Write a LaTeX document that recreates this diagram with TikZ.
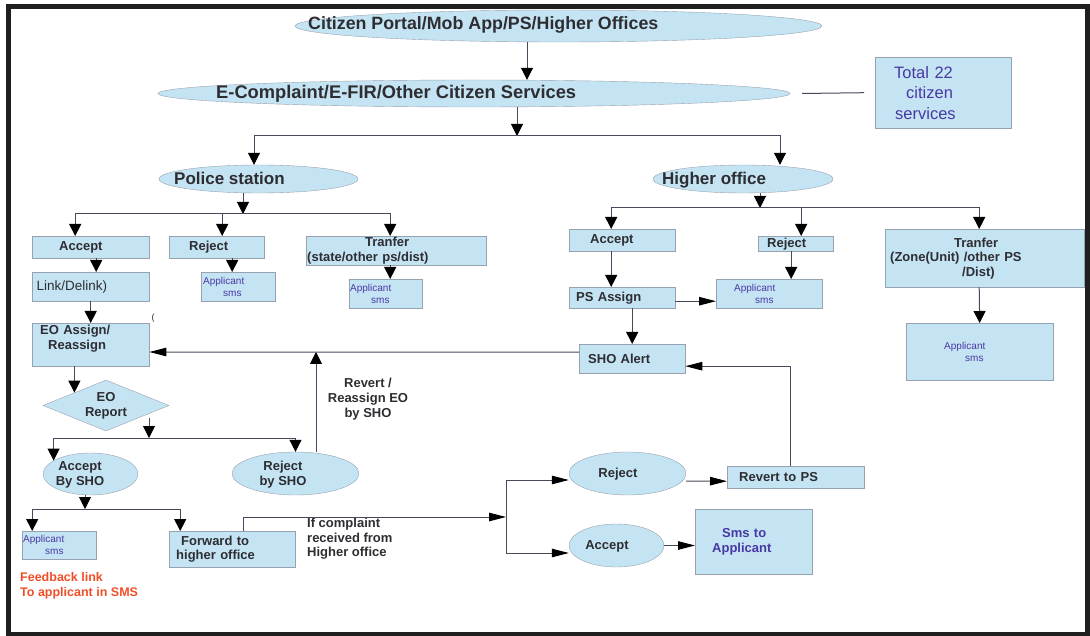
\documentclass[tikz,border=0pt]{standalone}
\usepackage{fontspec}
\setmainfont{Liberation Sans}
\usetikzlibrary{arrows.meta,shapes.geometric}
\definecolor{cellblue}{RGB}{197,228,243}
\definecolor{cellline}{RGB}{150,162,175}
\definecolor{wirecol}{RGB}{72,72,92}
\definecolor{inkgray}{RGB}{45,45,50}
\definecolor{inkblue}{RGB}{72,56,165}
\definecolor{inkred}{RGB}{240,78,40}

\begin{document}
\begin{tikzpicture}[x=1pt,y=-1pt,
   box/.style={draw=cellline,fill=cellblue,rectangle,anchor=north west,inner ysep=0pt,align=left,text=inkgray,font=\bfseries\fontsize{13}{14.5}\selectfont},
   smsbox/.style={box,text=inkblue,font=\fontsize{10}{12}\selectfont},
   oval/.style={draw=cellline,fill=cellblue,ellipse,inner sep=0pt},
   ovaltext/.style={text=inkgray,inner sep=0pt,anchor=base west,font=\bfseries\fontsize{17}{20}\selectfont},
   boldtext/.style={text=inkgray,align=center,inner sep=0pt,font=\bfseries\fontsize{13}{15}\selectfont},
   wire/.style={draw=wirecol,line width=1pt},
   arr/.style={wire,-{Triangle[length=12pt,width=12pt,color=black]}},
   harr/.style={wire,-{Triangle[length=17pt,width=8.5pt,color=black]}}]
\useasboundingbox (0,0) rectangle (1090,636);
\draw[line width=5pt,black!88] (8.5,6.5) rectangle (1087.5,634);

\node[oval,minimum width=527pt,minimum height=32pt] (portal) at (558.5,26) {};
\node[ovaltext,font=\bfseries\fontsize{17.8}{20}\selectfont] (portaltxt) at (308,30) {Citizen Portal/Mob App/PS/Higher Offices};
\node[oval,minimum width=632pt,minimum height=27pt] (services) at (474,93.5) {};
\node[ovaltext,font=\bfseries\fontsize{18.3}{20}\selectfont] (servicestxt) at (216,99) {E-Complaint/E-FIR/Other Citizen Services};
\node[box,text=inkblue,font=\fontsize{16.5}{20.5}\selectfont,inner xsep=19pt,text width=98pt,minimum height=71pt] (total) at (875,57) {Total 22\\\hspace*{12pt}citizen\\\hspace*{1pt}services};
\node[oval,minimum width=199pt,minimum height=28pt] (station) at (258.5,179) {};
\node[ovaltext] (stationtxt) at (174,185) {Police station};
\node[oval,minimum width=180pt,minimum height=28pt] (office) at (743,179) {};
\node[ovaltext] (officetxt) at (662,185) {Higher office};

\node[box,inner xsep=27pt,text width=63pt,minimum height=22pt] (psacc) at (32,236) {Accept};
\node[box,inner xsep=20pt,text width=55pt,minimum height=22pt] (psrej) at (169,236) {Reject};
\node[box,inner xsep=1pt,text width=178pt,minimum height=29pt] (pstrf) at (306,236) {\hspace*{58pt}Tranfer\\(state/other ps/dist)};
\node[box,font=\fontsize{13.5}{16}\selectfont,inner xsep=4.5pt,text width=108pt,minimum height=29pt] (link) at (32,272) {Link/Delink)};
\node[smsbox,inner xsep=2pt,text width=70pt,minimum height=29pt] (rejsms) at (201,272) {Applicant\\\hspace*{20pt}sms};
\node[smsbox,inner xsep=1pt,text width=71pt,minimum height=29pt] (trfsms) at (349,279) {Applicant\\\hspace*{21pt}sms};
\node[box,inner xsep=8pt,text width=101pt,minimum height=43pt] (eoassign) at (32,323) {EO Assign/\\\hspace*{8pt}Reassign\\\mbox{}};
\node[text=inkgray,inner sep=0pt,font=\fontsize{9}{10}\selectfont] (paren) at (153,318) {(};
\node[diamond,draw=cellline,fill=cellblue,aspect=2.5,inner sep=0pt,minimum width=126pt,minimum height=51pt,align=center,text=inkgray,font=\bfseries\fontsize{13}{15}\selectfont] (eoreport) at (106,405.5) {EO\\Report};
\node[boldtext] (revertlbl) at (368,399.3) {Revert /\\Reassign EO\\by SHO};
\node[oval,minimum width=95pt,minimum height=42pt] (shoacc) at (90.5,474) {};
\node[boldtext] (shoacctxt) at (80,475) {Accept\\By SHO};
\node[oval,minimum width=127pt,minimum height=43pt] (shorej) at (295.5,473.5) {};
\node[boldtext] (shorejtxt) at (283,475) {Reject\\by SHO};
\node[smsbox,inner xsep=1pt,text width=72pt,minimum height=28pt] (accsms) at (22,531) {Applicant\\\hspace*{22pt}sms};
\node[box,inner xsep=7pt,text width=112pt,minimum height=36pt] (forward) at (169,531) {\hspace*{5pt}Forward to\\higher office};
\node[boldtext,align=left,anchor=north west,font=\bfseries\fontsize{13}{14.5}\selectfont] (complaintlbl) at (307,518) {If complaint\\received from\\Higher office};
\node[boldtext,align=left,anchor=north west,text=inkred,font=\bfseries\fontsize{12.5}{15}\selectfont] (feedback) at (20,572.5) {Feedback link\\To applicant in SMS};

\node[box,inner xsep=21pt,text width=64pt,minimum height=22pt] (hoacc) at (569,229) {Accept};
\node[box,inner xsep=9pt,text width=57pt,minimum height=15pt] (horej) at (758,236) {Reject};
\node[box,inner xsep=5pt,text width=189pt,minimum height=58pt] (hotrf) at (885,229) {\hspace*{64pt}Tranfer\\(Zone(Unit) /other PS\\\hspace*{72pt}/Dist)};
\node[box,inner xsep=7pt,text width=92pt,minimum height=21pt] (psassign) at (569,287) {PS Assign};
\node[smsbox,inner xsep=18pt,text width=70pt,minimum height=29pt] (horejsms) at (716,279) {Applicant\\\hspace*{21pt}sms};
\node[smsbox,inner xsep=38pt,text width=71pt,minimum height=57pt] (hotrfsms) at (906,323) {Applicant\\\hspace*{21pt}sms};
\node[box,inner xsep=9pt,text width=88pt,minimum height=29pt] (shoalert) at (579,344) {SHO Alert};
\node[oval,minimum width=117pt,minimum height=43pt] (hirej) at (627.5,473.5) {};
\node[boldtext,anchor=base] (hirejtxt) at (618,477.7) {Reject};
\node[oval,minimum width=95pt,minimum height=43pt] (hiacc) at (616.5,545.5) {};
\node[boldtext,anchor=base] (hiacctxt) at (607,549.7) {Accept};
\node[box,inner xsep=12pt,text width=113pt,minimum height=22pt] (revert) at (727,466) {Revert to PS};
\node[box,text=inkblue,inner xsep=17pt,text width=83pt,minimum height=65pt] (smsapp) at (695,509) {\hspace*{10pt}Sms to\\Applicant};

\coordinate (split) at (517,136);
\coordinate (psjoin) at (243,214);
\coordinate (eojoin) at (149,438);
\coordinate (shojoin) at (85,509);
\coordinate (hojoin) at (760,208);
\coordinate (fork) at (506,517);
\coordinate (back) at (316,352);

\draw[arr] ([xshift=-31.5pt]portal.south) -- ([xshift=53pt]services.north);
\draw[arr] ([xshift=43pt]services.south) -- (split);
\draw[arr] (split) -| ([xshift=-4.5pt]station.north);
\draw[arr] (split) -| ([xshift=37pt]office.north);
\draw[wire] ([xshift=12pt]services.east) -- ([xshift=-11pt]total.west);

\draw[arr] ([xshift=-15.5pt]station.south) -- (psjoin);
\draw[arr] (psjoin) -| ([xshift=-15.5pt]psacc.north);
\draw[arr] (psjoin) -| ([xshift=5.5pt]psrej.north);
\draw[arr] (psjoin) -| ([xshift=-6pt]pstrf.north);
\draw[arr] ([xshift=5.5pt]psacc.south) -- ([xshift=5.5pt]link.north);
\draw[arr] ([xshift=15.5pt]psrej.south) -- ([xshift=-6pt]rejsms.north);
\draw[arr] ([xshift=-6pt]pstrf.south) -- ([xshift=4.5pt]trfsms.north);
\draw[arr] (link) -- (eoassign);
\draw[arr] (eoassign.south -| eoreport.north west) -- (eoreport.north west);
\draw[arr] (eoreport.south east -| eojoin) -- (eojoin);
\draw[arr] (eojoin) -| (shoacc.160);
\draw[arr] (eojoin) -| (shorej.north);
\draw[arr] ([xshift=20.5pt]shorej.north) -- (back);
\draw[harr] ([yshift=6.5pt]shoalert.west) -- (eoassign.east |- back);
\draw[arr] ([xshift=-5.5pt]shoacc.south) -- (shojoin);
\draw[arr] (shojoin) -| ([xshift=-27pt]accsms.north);
\draw[arr] (shojoin) -| ([xshift=-52pt]forward.north);
\draw[harr] ([xshift=11pt]forward.north) |- (fork);
\draw[harr] (fork) |- ([yshift=-6.5pt]hirej.west);
\draw[harr] (fork) |- ([yshift=-7.5pt]hiacc.west);
\draw[harr] ([yshift=-7.5pt]hirej.east) -- ([yshift=-4pt]revert.west);
\draw[harr] ([xshift=-5.5pt]revert.north) |- ([yshift=-7.5pt]shoalert.east);
\draw[harr] (hiacc.east) -- (smsapp.west |- hiacc.east);

\draw[arr] ([xshift=17pt]office.south) -- (hojoin);
\draw[arr] (hojoin) -| ([xshift=-11pt]hoacc.north);
\draw[arr] (hojoin) -| ([xshift=5.5pt]horej.north);
\draw[arr] (hojoin) -| ([xshift=-5.5pt]hotrf.north);
\draw[arr] ([xshift=-11pt]hoacc.south) -- ([xshift=-11pt]psassign.north);
\draw[harr] ([yshift=-3.5pt]psassign.east) -- ([yshift=-7.5pt]horejsms.west);
\draw[arr] ([xshift=-4.5pt]horej.south) -- ([xshift=22pt]horejsms.north);
\draw[arr] ([xshift=10pt]psassign.south) -- (shoalert.north);
\draw[arr] ([xshift=-5.5pt]hotrf.south) -- (hotrfsms.north);
\end{tikzpicture}
\end{document}
